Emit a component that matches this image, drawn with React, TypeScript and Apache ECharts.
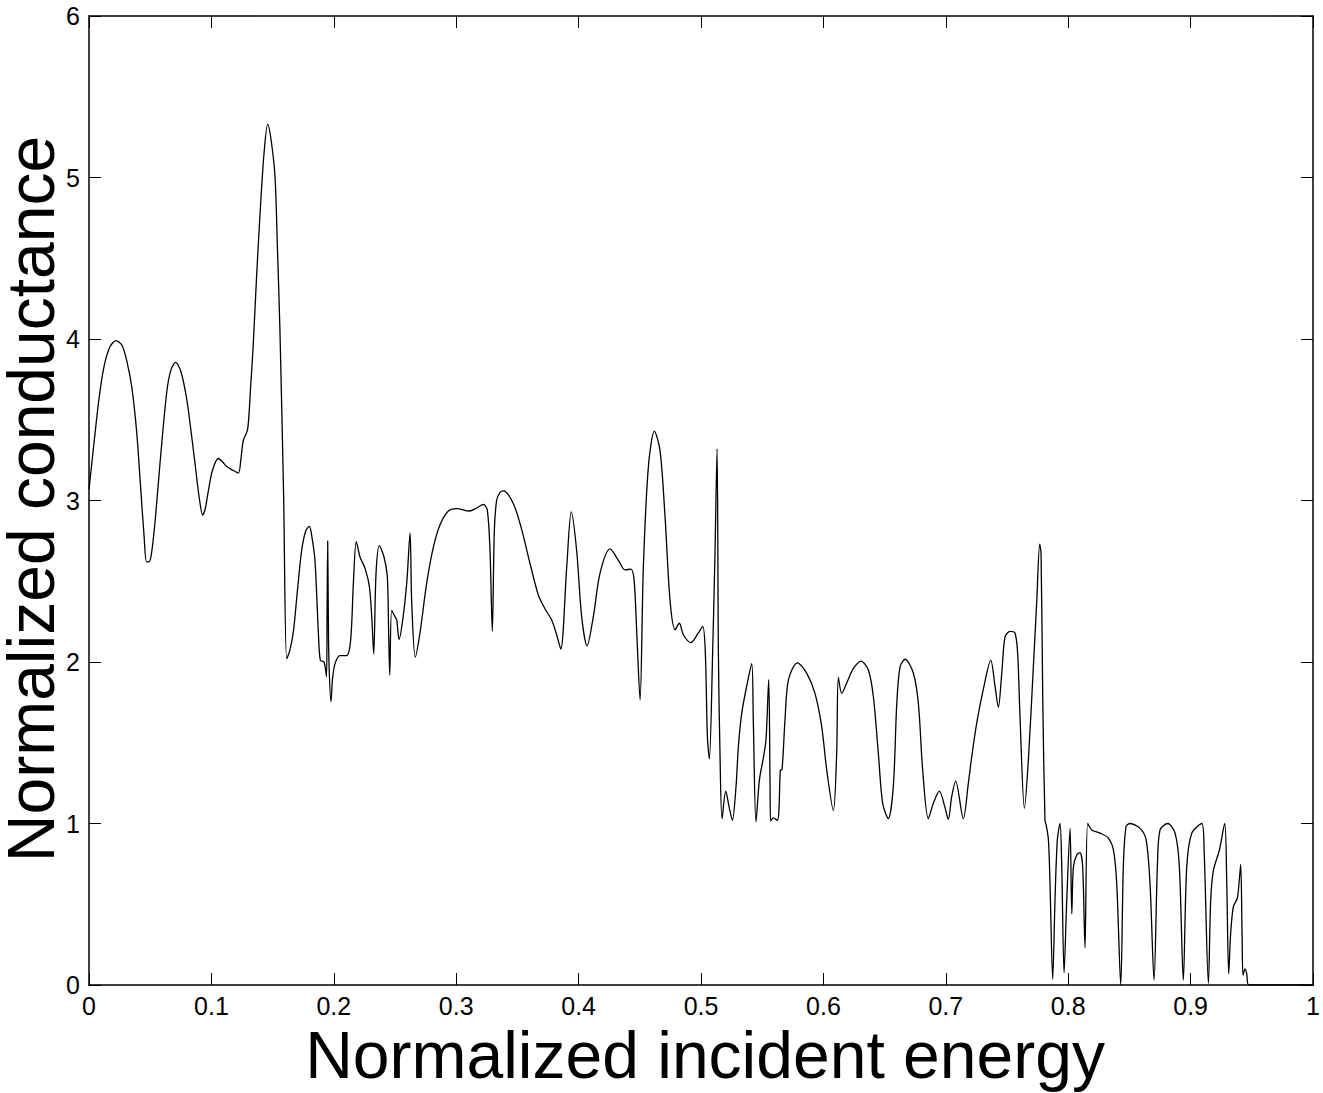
import React, { useEffect, useRef } from "react";
import * as echarts from "echarts";

const energy: number[] = [
  0.000, 0.004, 0.008, 0.012, 0.017, 0.022, 0.027, 0.031, 0.035, 0.039, 0.042, 0.045, 0.047, 0.049, 0.051, 0.054,
  0.058, 0.0635, 0.067, 0.0708, 0.075, 0.0798, 0.0835, 0.0866, 0.090, 0.0929, 0.095, 0.0975, 0.101, 0.1057, 0.109,
  0.1125, 0.117, 0.122, 0.124, 0.126, 0.1296, 0.132, 0.134, 0.137, 0.1397, 0.143, 0.146, 0.149, 0.152, 0.154, 0.156,
  0.159, 0.1615, 0.164, 0.167, 0.170, 0.1737, 0.177, 0.180, 0.182, 0.1846, 0.1874, 0.189, 0.192, 0.194, 0.1945, 0.195,
  0.1955, 0.196, 0.1977, 0.199, 0.201, 0.205, 0.2105, 0.2138, 0.216, 0.2184, 0.2214, 0.2255, 0.229, 0.231, 0.2326,
  0.2345, 0.2372, 0.241, 0.2437, 0.2448, 0.2457, 0.2473, 0.25, 0.2514, 0.2533, 0.2563, 0.2596, 0.2623, 0.2636, 0.2666,
  0.2704, 0.2759, 0.2813, 0.2868, 0.2936, 0.3004, 0.3107, 0.317, 0.3222, 0.3254, 0.3276, 0.3295, 0.3311, 0.333, 0.3358,
  0.3385, 0.3467, 0.3535, 0.3603, 0.3671, 0.3725, 0.378, 0.382, 0.3854, 0.3903, 0.394, 0.3984, 0.4025, 0.4069, 0.412,
  0.4175, 0.4257, 0.4325, 0.4379, 0.4426, 0.4453, 0.4475, 0.4502, 0.4529, 0.457, 0.4619, 0.4665, 0.4706, 0.4747, 0.4788,
  0.4823, 0.4855, 0.4916, 0.4978, 0.5014, 0.5035, 0.5052, 0.5068, 0.5095, 0.5114, 0.5131, 0.5142, 0.5155, 0.5172, 0.5202,
  0.523, 0.5256, 0.5286, 0.5305, 0.5332, 0.5373, 0.5414, 0.5427, 0.5449, 0.5477, 0.551, 0.5531, 0.5553, 0.5564, 0.5569,
  0.559, 0.5624, 0.5637, 0.5648, 0.5662, 0.5686, 0.5714, 0.5787, 0.5864, 0.5931, 0.5986, 0.6027, 0.6081, 0.6108, 0.6122,
  0.615, 0.619, 0.6245, 0.6307, 0.6367, 0.6408, 0.6449, 0.6484, 0.653, 0.6571, 0.6599, 0.6626, 0.6667, 0.6735, 0.6776,
  0.6811, 0.6857, 0.6898, 0.6947, 0.6993, 0.702, 0.7048, 0.708, 0.7143, 0.7184, 0.7211, 0.7252, 0.7306, 0.7367, 0.7402,
  0.7429, 0.7457, 0.7484, 0.7525, 0.7565, 0.7587, 0.7606, 0.7642, 0.7674, 0.7715, 0.7743, 0.7767, 0.7778, 0.7792, 0.781,
  0.782, 0.7838, 0.7851, 0.7873, 0.7892, 0.7911, 0.7933, 0.7947, 0.7966, 0.7988, 0.8015, 0.8029, 0.8042, 0.8069, 0.8096,
  0.8118, 0.8137, 0.8159, 0.8192, 0.826, 0.8328, 0.8369, 0.8396, 0.8429, 0.845, 0.8472, 0.8505, 0.8587, 0.8636, 0.8668,
  0.8701, 0.8728, 0.875, 0.8813, 0.8873, 0.8908, 0.894, 0.8968, 0.9009, 0.9091, 0.911, 0.9145, 0.9164, 0.9186, 0.9235,
  0.9278, 0.9295, 0.9311, 0.9327, 0.9349, 0.9381, 0.9395, 0.9409, 0.942, 0.9428, 0.9444, 0.9458, 0.9475, 1.0,
];

const conductance: number[] = [
  3.07, 3.35, 3.62, 3.82, 3.95, 3.99, 3.96, 3.86, 3.70, 3.42, 3.10, 2.78, 2.62, 2.62, 2.67, 2.87,
  3.23, 3.67, 3.81, 3.855, 3.80, 3.63, 3.42, 3.23, 3.02, 2.91, 2.95, 3.06, 3.19, 3.26, 3.24,
  3.21, 3.19, 3.17, 3.25, 3.37, 3.44, 3.70, 3.94, 4.40, 4.77, 5.15, 5.33, 5.22, 5.00, 4.55, 4.05,
  3.03, 2.02, 2.07, 2.19, 2.42, 2.69, 2.81, 2.84, 2.78, 2.63, 2.18, 2.01, 2.00, 1.91, 2.3, 2.75,
  2.3, 2.01, 1.755, 1.90, 1.99, 2.04, 2.04, 2.14, 2.49, 2.745, 2.65, 2.58, 2.47, 2.28, 2.05,
  2.55, 2.72, 2.65, 2.53, 2.18, 1.92, 2.32, 2.28, 2.26, 2.14, 2.26, 2.49, 2.80, 2.38, 2.03,
  2.18, 2.49, 2.71, 2.85, 2.935, 2.95, 2.935, 2.955, 2.976, 2.94, 2.69, 2.19, 2.80, 3.0, 3.05,
  3.06, 2.98, 2.82, 2.61, 2.415, 2.33, 2.26, 2.17, 2.08, 2.59, 2.93, 2.69, 2.28, 2.10, 2.28,
  2.55, 2.70, 2.63, 2.57, 2.575, 2.51, 2.18, 1.765, 2.59, 3.21, 3.43, 3.31, 2.90, 2.38, 2.20,
  2.24, 2.17, 2.12, 2.18, 2.22, 2.06, 1.54, 1.40, 2.06, 2.67, 3.32, 2.05, 1.43, 1.03, 1.20,
  1.10, 1.02, 1.23, 1.475, 1.68, 1.85, 1.99, 1.64, 1.01, 1.27, 1.41, 1.52, 1.89, 1.23, 1.015,
  1.035, 1.02, 1.09, 1.33, 1.335, 1.64, 1.89, 1.995, 1.93, 1.806, 1.60, 1.33, 1.08, 1.43, 1.905,
  1.806, 1.87, 1.96, 2.006, 1.95, 1.785, 1.43, 1.125, 1.03, 1.23, 1.74, 1.97, 2.017, 1.93, 1.74,
  1.33, 1.03, 1.125, 1.20, 1.10, 1.026, 1.166, 1.263, 1.03, 1.25, 1.41, 1.62, 1.83, 2.01, 1.85,
  1.72, 1.93, 2.157, 2.19, 2.18, 2.05, 1.66, 1.094, 1.39, 1.97, 2.38, 2.73, 2.67, 1.76, 1.02,
  0.99, 0.90, 0.63, 0.035, 0.53, 0.90, 1.0, 0.73, 0.076, 0.53, 0.97, 0.44, 0.73, 0.805, 0.82,
  0.73, 0.23, 1.0, 0.96, 0.94, 0.91, 0.836, 0.63, 0.0, 0.73, 0.98, 1.0, 0.97, 0.90, 0.63,
  0.03, 0.73, 0.96, 1.0, 0.94, 0.73, 0.03, 0.73, 0.94, 1.0, 0.836, 0.01, 0.53, 0.71, 0.836,
  1.0, 0.63, 0.07, 0.32, 0.485, 0.537, 0.63, 0.747, 0.32, 0.06, 0.10, 0.07, 0.0, 0.0,
];

const xTitle = "Normalized incident energy";
const yTitle = "Normalized conductance";
const FONT = "'Liberation Sans', Arial, Helvetica, sans-serif";

export default function App() {
  const ref = useRef<HTMLDivElement>(null);
  useEffect(() => {
    document.body.style.margin = "0";
    if (!ref.current) return;
    const chart = echarts.init(ref.current, undefined, { renderer: "svg" });
    const pts = energy.map((x, i) => [x, conductance[i]]);
    const axisCommon = {
      axisLine: { show: true, onZero: false, lineStyle: { color: "#000", width: 1.5 } },
      axisTick: { show: true, inside: true, length: 12, lineStyle: { color: "#000", width: 1 } },
      splitLine: { show: false },
    };
    chart.setOption({
      animation: false,
      backgroundColor: "#fff",
      grid: { left: 89, right: 9, top: 16, bottom: 108, containLabel: false },
      xAxis: [
        {
          type: "value", min: 0, max: 1, interval: 0.1, position: "bottom",
          ...axisCommon,
          axisLabel: { color: "#000", fontSize: 25, lineHeight: 25, fontFamily: FONT, margin: 8 },
        },
        {
          type: "value", min: 0, max: 1, interval: 0.1, position: "top",
          ...axisCommon,
          axisLabel: { show: false },
        },
      ],
      yAxis: [
        {
          type: "value", min: 0, max: 6, interval: 1, position: "left",
          ...axisCommon,
          axisLabel: { color: "#000", fontSize: 25, lineHeight: 25, fontFamily: FONT, margin: 9 },
        },
        {
          type: "value", min: 0, max: 6, interval: 1, position: "right",
          ...axisCommon,
          axisLabel: { show: false },
        },
      ],
      graphic: [
        {
          type: "text", x: 705, y: 1055,
          style: { text: xTitle, fill: "#000", font: `66px ${FONT}`, lineHeight: 56, textAlign: "center", textVerticalAlign: "middle" },
        },
        {
          type: "text", x: 31, y: 499, rotation: Math.PI / 2,
          style: { text: yTitle, fill: "#000", font: `66px ${FONT}`, lineHeight: 56, textAlign: "center", textVerticalAlign: "middle" },
        },
      ],
      series: [
        {
          type: "line", xAxisIndex: 0, yAxisIndex: 0, data: pts, showSymbol: false, symbol: "none",
          smooth: 0.3, lineStyle: { color: "#000", width: 1.3 }, clip: true,
        },
      ],
    });
    return () => chart.dispose();
  }, []);
  return <div ref={ref} style={{ width: 1323, height: 1093, position: "absolute", left: 0, top: 0 }} />;
}
